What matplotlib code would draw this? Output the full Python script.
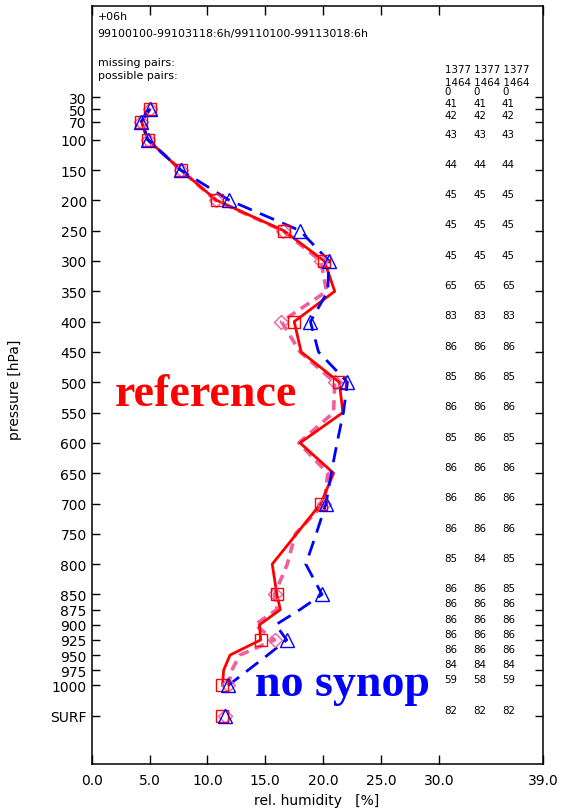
import matplotlib
matplotlib.use('Agg')
import matplotlib.pyplot as plt

# pressure levels (hPa) of the three profiles, SURF drawn apart below 1000
levels = [50, 70, 100, 150, 200, 250, 300, 350, 400, 450, 500, 550, 600,
          650, 700, 750, 800, 850, 875, 900, 925, 950, 975, 1000]
rh_red = [5.0, 4.3, 4.85, 7.7, 10.8, 16.6, 20.1, 21.0, 17.5, 18.1, 21.4, 21.7,
          18.0, 20.9, 19.8, 17.7, 15.6, 16.0, 16.3, 14.5, 14.6, 11.95, 11.4, 11.3]
rh_pink = [5.0, 4.3, 4.85, 7.7, 10.7, 16.5, 19.8, 20.3, 16.4, 18.0, 21.0, 20.9,
           17.9, 20.4, 20.1, 17.6, 16.9, 15.8, 16.0, 14.1, 15.8, 12.8, 12.1, 11.8]
rh_blue = [5.0, 4.3, 4.85, 7.7, 11.9, 18.0, 20.5, 20.4, 18.9, 19.6, 22.1, 21.75,
           21.2, 20.7, 20.25, 19.4, 18.5, 19.9, 18.0, 15.9, 16.85, 15.2, 13.5, 11.8]
surf_red, surf_pink, surf_blue = 11.3, 11.5, 11.5

# levels that carry a symbol
mark_levels = [50, 70, 100, 150, 200, 250, 300, 400, 500, 700, 850, 925, 1000]

# y axis ticks (SURF put at 1050)
tick_p = [30, 50, 70, 100, 150, 200, 250, 300, 350, 400, 450, 500, 550, 600,
          650, 700, 750, 800, 850, 875, 900, 925, 950, 975, 1000, 1050]
tick_lab = [str(p) for p in tick_p[:-1]] + ['SURF']
SURF_P = 1050

# number of pairs per level, three columns
counts = [(0, 0, 0), (41, 41, 41), (42, 42, 42), (43, 43, 43), (44, 44, 44),
          (45, 45, 45), (45, 45, 45), (45, 45, 45), (65, 65, 65), (83, 83, 83),
          (86, 86, 86), (85, 86, 85), (86, 86, 86), (85, 86, 85), (86, 86, 86),
          (86, 86, 86), (86, 86, 86), (85, 84, 85), (86, 86, 85), (86, 86, 86),
          (86, 86, 86), (86, 86, 86), (86, 86, 86), (84, 84, 84), (59, 58, 59),
          (82, 82, 82)]
missing_pairs = '1377 1377 1377'
possible_pairs = '1464 1464 1464'

x_ticks = [0, 5, 10, 15, 20, 25, 30, 39]

RED = '#ff0000'
PINK = '#f0609e'
BLUE = '#0000ff'

fig = plt.figure(figsize=(5.63, 8.12), dpi=100)
ax = fig.add_axes([0.1629, 0.0579, 0.8016, 0.9338])

# profiles
ax.plot(rh_pink, levels, color=PINK, lw=2.6, dashes=(2.8, 1.8), zorder=2)
ax.plot(rh_red, levels, color=RED, lw=2.0, zorder=3)
ax.plot(rh_blue, levels, color=BLUE, lw=2.0, dashes=(5.5, 3.2), zorder=4)

# symbols
def pick(vals, surf):
    xs = [vals[levels.index(p)] for p in mark_levels] + [surf]
    return xs, mark_levels + [SURF_P]

xs, ys = pick(rh_pink, surf_pink)
ax.plot(xs, ys, ls='none', marker='D', ms=7, mfc='none', mec=PINK, mew=1.0, zorder=5)
xs, ys = pick(rh_red, surf_red)
ax.plot(xs, ys, ls='none', marker='s', ms=8.5, mfc='none', mec=RED, mew=1.0, zorder=5)
xs, ys = pick(rh_blue, surf_blue)
ax.plot(xs, ys, ls='none', marker='^', ms=9.5, mfc='none', mec=BLUE, mew=1.0, zorder=6)

ax.set_xlim(0, 39)
ax.set_ylim(1129.6, -121)

ax.set_xticks(x_ticks)
ax.set_xticklabels(['%.1f' % v for v in x_ticks])
ax.set_yticks(tick_p)
ax.set_yticklabels(tick_lab)
ax.tick_params(axis='x', direction='in', length=6.5, width=1, top=True,
               labelsize=10, pad=6.5)
ax.tick_params(axis='y', direction='in', length=6, width=1, right=True,
               labelsize=10, pad=3.5)
for s in ax.spines.values():
    s.set_linewidth(1.1)

# header
hdr = dict(transform=ax.transAxes, fontsize=7.9, ha='left', va='center')
ax.text(0.013, 0.9864, '+06h', **hdr)
ax.text(0.013, 0.9640, '99100100-99103118:6h/99110100-99113018:6h', **hdr)
ax.text(0.013, 0.9258, 'missing pairs:', **hdr)
ax.text(0.013, 0.9087, 'possible pairs:', **hdr)

# pair counts on the right
ax.text(30.5, 63 / 0.606 - 121, missing_pairs, fontsize=7.4, ha='left', va='center')
ax.text(30.5, 76 / 0.606 - 121, possible_pairs, fontsize=7.4, ha='left', va='center')
for p, row in zip(tick_p, counts):
    for xc, n in zip([30.5, 32.95, 35.45], row):
        ax.text(xc, p - 2, str(n), fontsize=7.4, ha='left', va='bottom')

# big labels
ax.text(2.0, 538, 'reference', color=RED, fontsize=33, fontweight='bold',
        family='Liberation Serif', va='baseline')
ax.text(14.1, 1015, 'no synop', color=BLUE, fontsize=33, fontweight='bold',
        family='Liberation Serif', va='baseline')

fig.text(15 / 563, 1 - 390 / 812, 'pressure [hPa]', rotation=90, fontsize=10,
         ha='center', va='center')
fig.text(317 / 563, 1 - 801 / 812, 'rel. humidity   [%]', fontsize=10,
         ha='center', va='center')

fig.savefig('out.png', dpi=100)
